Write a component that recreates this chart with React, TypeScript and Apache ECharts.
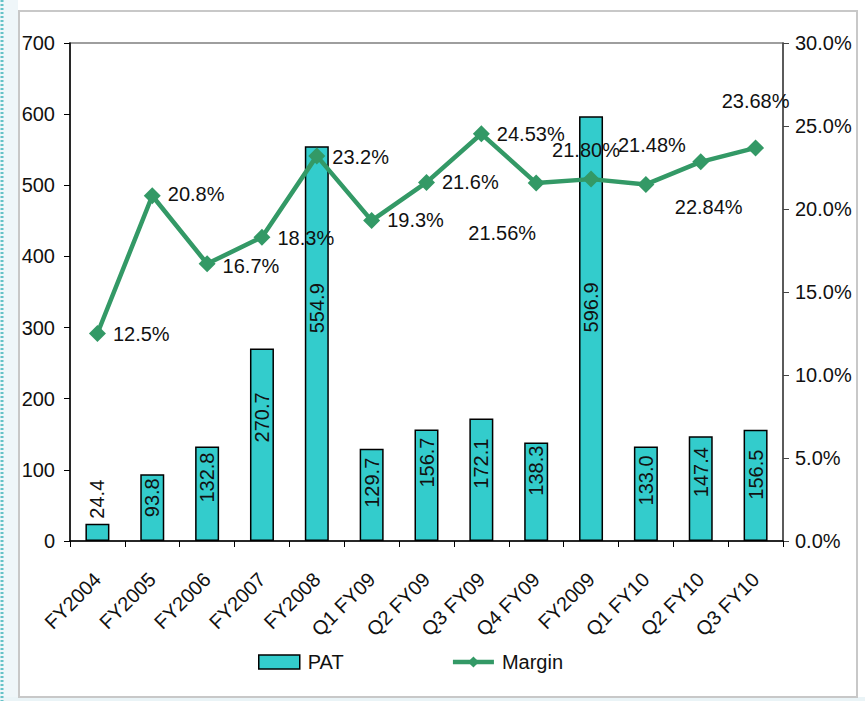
import React, { useEffect, useRef } from "react";
import * as echarts from "echarts";

const categories = [
  "FY2004", "FY2005", "FY2006", "FY2007", "FY2008", "Q1 FY09", "Q2 FY09",
  "Q3 FY09", "Q4 FY09", "FY2009", "Q1 FY10", "Q2 FY10", "Q3 FY10",
];
const patValues = [24.4, 93.8, 132.8, 270.7, 554.9, 129.7, 156.7, 172.1, 138.3, 596.9, 133.0, 147.4, 156.5];
const marginValues = [12.5, 20.8, 16.7, 18.3, 23.2, 19.3, 21.6, 24.53, 21.56, 21.8, 21.48, 22.84, 23.68];
const marginLabels = ["12.5%", "20.8%", "16.7%", "18.3%", "23.2%", "19.3%", "21.6%", "24.53%", "21.56%", "21.80%", "21.48%", "22.84%", "23.68%"];
const leftTicks = [0, 100, 200, 300, 400, 500, 600, 700];
const rightTicks = [0, 5, 10, 15, 20, 25, 30];

// label layout (gap from bar top for PAT labels)
const patLabelGap = [5, 4, 6, 44, 137, 9, 8, 20, 3, 166, 9, 11, 20];
// margin label placement: [position, dx, dy]
const marginLabelPlace: [string, number, number][] = [
  ["right", 0, 0], ["right", 0, -2], ["right", 0, 2], ["right", 0, 1], ["right", 0, 1],
  ["right", 0, -1], ["right", 0, 0], ["right", 0, 0], ["inside", -34, 50], ["inside", -5, -29],
  ["inside", 6, -39], ["inside", 8, 45], ["inside", 0, -47],
];

const FONT = "'Liberation Sans', Arial, sans-serif";
const FS = 20;

export default function App() {
  const ref = useRef<HTMLDivElement>(null);
  useEffect(() => {
    if (!ref.current) return;
    const chart = echarts.init(ref.current, undefined, { renderer: "svg" });
    const option: any = {
      animation: false,
      backgroundColor: "#ffffff",
      textStyle: { fontFamily: FONT },
      graphic: [
        { type: "rect", z: -10, shape: { x: 0, y: 0, width: 18, height: 701 }, style: { fill: "#eff6f9" } },
        { type: "rect", z: -10, shape: { x: 0, y: 697, width: 865, height: 4 }, style: { fill: "#eaf4f7" } },
        { type: "line", z: -9, shape: { x1: 2, y1: 0, x2: 2, y2: 701 }, style: { stroke: "#66c2c8", lineWidth: 3, lineDash: [2, 2] } },
        { type: "rect", z: -8, shape: { x: 19, y: 11, width: 838, height: 686 }, style: { fill: "#ffffff", stroke: "#c8c8c8", lineWidth: 2 } },
      ],
      grid: {
        left: 70, right: 82, top: 43, bottom: 160,
        show: true, borderColor: "#7f7f7f", borderWidth: 1.5,
        backgroundColor: "transparent",
      },
      legend: {
        bottom: 24, left: 253,
        itemWidth: 41, itemHeight: 14, itemGap: 107,
        textStyle: { fontFamily: FONT, fontSize: FS, color: "#111", padding: [0, 0, 0, 3] },
        data: [
          { name: "PAT", icon: "rect", itemStyle: { color: "#33CCCC", borderColor: "#000", borderWidth: 1.5 } },
          { name: "Margin", lineStyle: { width: 4.5, color: "#339966" }, itemStyle: { color: "#339966" } },
        ],
      },
      xAxis: {
        type: "category",
        data: categories,
        boundaryGap: true,
        axisLine: { lineStyle: { color: "#000", width: 1.5 } },
        axisTick: { show: true, alignWithLabel: false, length: 6, lineStyle: { color: "#000" } },
        axisLabel: { rotate: 45, margin: 35, fontSize: FS, color: "#111", fontFamily: FONT, interval: 0 },
      },
      yAxis: [
        {
          type: "value", min: 0, max: 700, interval: 100,
          axisLine: { show: true, lineStyle: { color: "#000", width: 1.5 } },
          axisTick: { show: true, length: 6, lineStyle: { color: "#000" } },
          axisLabel: { fontSize: FS, color: "#111", margin: 15, fontFamily: FONT,
            formatter: (v: number) => (leftTicks.includes(v) ? String(v) : "") },
          splitLine: { show: false },
        },
        {
          type: "value", min: 0, max: 30, interval: 5, position: "right",
          axisLine: { show: true, lineStyle: { color: "#444", width: 1.5 } },
          axisTick: { show: true, length: 6, lineStyle: { color: "#444" } },
          axisLabel: { fontSize: FS, color: "#111", margin: 12, fontFamily: FONT,
            formatter: (v: number) => (rightTicks.includes(v) ? v.toFixed(1) + "%" : "") },
          splitLine: { show: false },
        },
      ],
      series: [
        {
          name: "PAT",
          type: "bar",
          barWidth: 24,
          itemStyle: { color: "#33CCCC", borderColor: "#000", borderWidth: 1.5 },
          data: patValues.map((v, i) => ({
            value: v,
            label: i === 0
              ? { show: true, position: "top", rotate: 90, align: "left", verticalAlign: "middle", distance: patLabelGap[i] }
              : { show: true, position: "insideTop", rotate: 90, align: "right", verticalAlign: "middle", distance: patLabelGap[i] },
          })),
          label: {
            show: true, fontSize: FS, color: "#111", fontFamily: FONT,
            formatter: (p: any) => patValues[p.dataIndex].toFixed(1),
          },
          z: 2,
        },
        {
          name: "Margin",
          type: "line",
          yAxisIndex: 1,
          symbol: "diamond",
          symbolSize: 17,
          lineStyle: { color: "#339966", width: 4.5 },
          itemStyle: { color: "#339966" },
          data: marginValues.map((v, i) => {
            const [pos, dx, dy] = marginLabelPlace[i];
            return {
              value: v,
              label: { show: true, position: pos, offset: [dx, dy], distance: 7 },
            };
          }),
          label: {
            show: true, fontSize: FS, color: "#111", fontFamily: FONT,
            formatter: (p: any) => marginLabels[p.dataIndex],
          },
          z: 3,
        },
      ],
    };
    chart.setOption(option);
    return () => chart.dispose();
  }, []);
  return (
    <div
      ref={ref}
      style={{ position: "absolute", left: 0, top: 0, width: 865, height: 701 }}
    />
  );
}
